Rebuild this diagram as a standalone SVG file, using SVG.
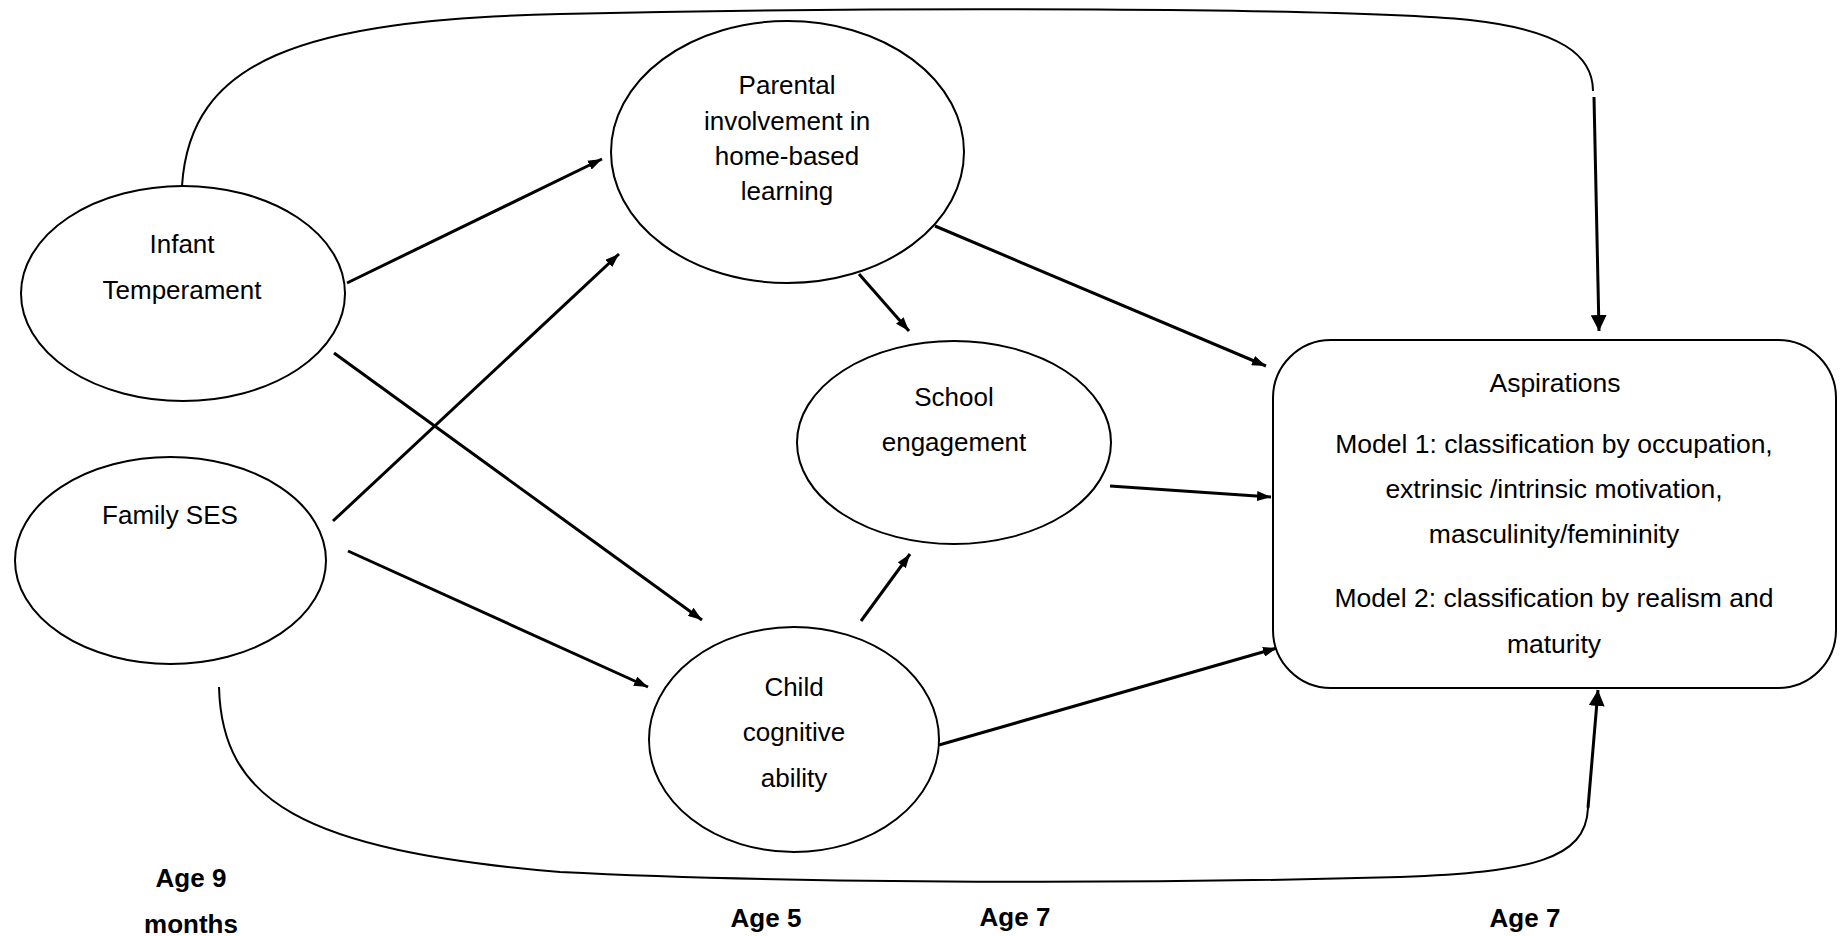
<svg xmlns="http://www.w3.org/2000/svg" width="1843" height="936" viewBox="0 0 1843 936">
  <style>
    .node { fill: #ffffff; stroke: #000000; stroke-width: 2; }
    .label { font-family: "Liberation Sans", Arial, sans-serif; font-size: 26px; fill: #000000; text-anchor: middle; }
    .box-label { font-family: "Liberation Sans", Arial, sans-serif; font-size: 26.5px; fill: #000000; text-anchor: middle; }
    .age { font-family: "Liberation Sans", Arial, sans-serif; font-size: 26px; font-weight: bold; fill: #000000; text-anchor: middle; }
    .arrow { fill: none; stroke: #000000; stroke-width: 3; marker-end: url(#head); }
    .curve { fill: none; stroke: #000000; stroke-width: 2; }
    .drop { fill: none; stroke: #000000; stroke-width: 3; marker-end: url(#bighead); }
  </style>
  <defs>
    <marker id="head" viewBox="0 0 14 10" refX="14" refY="5" markerWidth="14" markerHeight="10" markerUnits="userSpaceOnUse" orient="auto">
      <path d="M0,0 L14,5 L0,10 z" fill="#000000"/>
    </marker>
    <marker id="bighead" viewBox="0 0 16 16" refX="16" refY="8" markerWidth="16" markerHeight="16" markerUnits="userSpaceOnUse" orient="auto">
      <path d="M0,0 L16,8 L0,16 z" fill="#000000"/>
    </marker>
  </defs>

  <rect width="1843" height="936" fill="#ffffff"/>

  <!-- connectors -->
  <g id="connectors">
    <line class="arrow" x1="347" y1="283" x2="602" y2="159"/>
    <line class="arrow" x1="333" y1="521" x2="619" y2="254"/>
    <line class="arrow" x1="334" y1="353" x2="702" y2="620"/>
    <line class="arrow" x1="348" y1="551" x2="648" y2="687"/>
    <line class="arrow" x1="859" y1="274" x2="909" y2="331"/>
    <line class="arrow" x1="935" y1="226" x2="1266" y2="366"/>
    <line class="arrow" x1="1110" y1="486" x2="1271" y2="497"/>
    <line class="arrow" x1="861" y1="621" x2="910" y2="554"/>
    <line class="arrow" x1="939" y1="745" x2="1277" y2="648"/>
    <!-- Infant temperament over the top to aspirations -->
    <path class="curve" d="M182,186 C190,60 300,20 560,14 C900,6 1350,8 1470,20 C1560,30 1593,55 1593,91"/>
    <line class="drop" x1="1594" y1="97" x2="1599" y2="331"/>
    <!-- Family SES along the bottom to aspirations -->
    <path class="curve" d="M219,687 C222,800 300,850 560,872 C800,884 1150,884 1400,877 C1530,872 1586,860 1588,808"/>
    <line class="drop" x1="1588" y1="808" x2="1598" y2="690"/>
  </g>

  <g id="infant-temperament">
    <ellipse class="node" cx="183" cy="293.5" rx="162" ry="107.5"/>
    <text class="label" x="182" y="253">Infant</text>
    <text class="label" x="182" y="299">Temperament</text>
  </g>

  <g id="family-ses">
    <ellipse class="node" cx="170.5" cy="560.5" rx="155.5" ry="103.5"/>
    <text class="label" x="170" y="524">Family SES</text>
  </g>

  <g id="parental-involvement">
    <ellipse class="node" cx="787.5" cy="152" rx="176.5" ry="131"/>
    <text class="label" x="787" y="94">Parental</text>
    <text class="label" x="787" y="130">involvement in</text>
    <text class="label" x="787" y="165">home-based</text>
    <text class="label" x="787" y="200">learning</text>
  </g>

  <g id="school-engagement">
    <ellipse class="node" cx="954" cy="442.5" rx="157" ry="101.5"/>
    <text class="label" x="954" y="406">School</text>
    <text class="label" x="954" y="451">engagement</text>
  </g>

  <g id="child-cognitive-ability">
    <ellipse class="node" cx="794" cy="739.5" rx="145" ry="112.5"/>
    <text class="label" x="794" y="696">Child</text>
    <text class="label" x="794" y="741">cognitive</text>
    <text class="label" x="794" y="787">ability</text>
  </g>

  <g id="aspirations">
    <rect class="node" x="1273" y="340" width="563" height="348" rx="58" ry="58"/>
    <text class="box-label" x="1555" y="392">Aspirations</text>
    <text class="box-label" x="1554" y="453">Model 1: classification by occupation,</text>
    <text class="box-label" x="1554" y="498">extrinsic /intrinsic motivation,</text>
    <text class="box-label" x="1554" y="543">masculinity/femininity</text>
    <text class="box-label" x="1554" y="607">Model 2: classification by realism and</text>
    <text class="box-label" x="1554" y="653">maturity</text>
  </g>

  <g id="age-labels">
    <text class="age" x="191" y="887">Age 9</text>
    <text class="age" x="191" y="933">months</text>
    <text class="age" x="766" y="927">Age 5</text>
    <text class="age" x="1015" y="926">Age 7</text>
    <text class="age" x="1525" y="927">Age 7</text>
  </g>
</svg>
